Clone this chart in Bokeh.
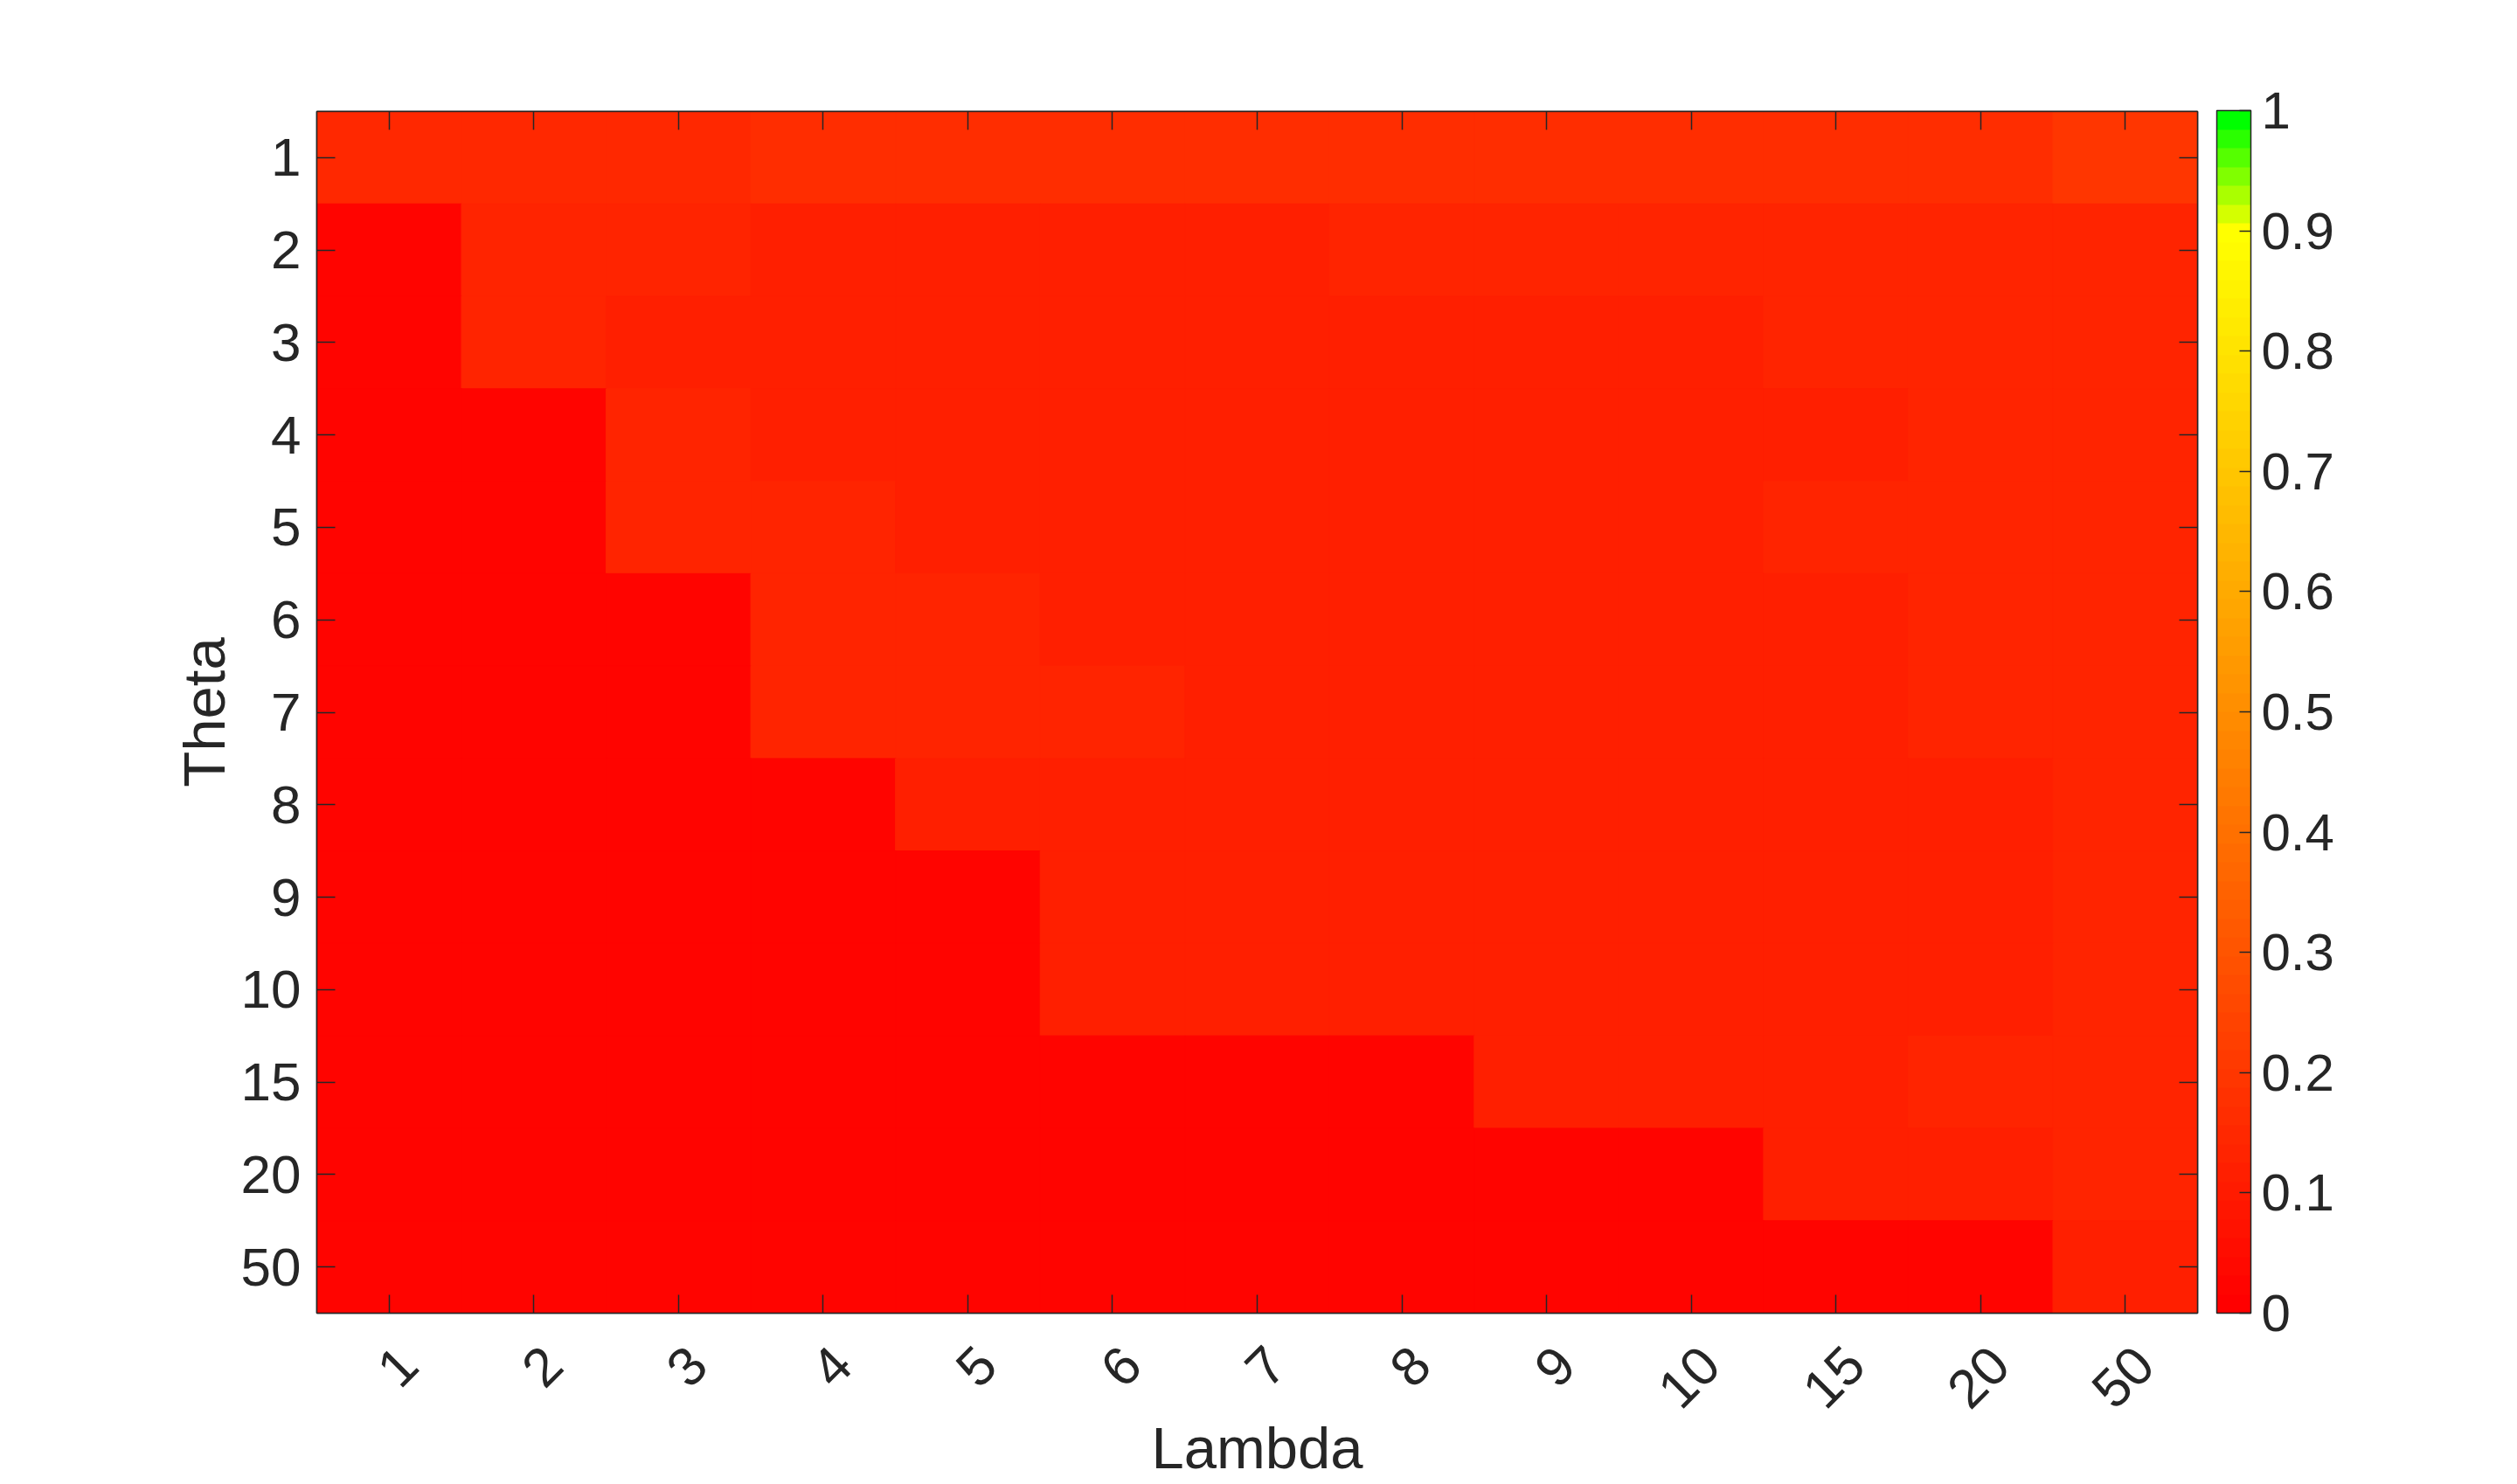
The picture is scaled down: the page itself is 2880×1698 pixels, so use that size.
import math
from bokeh.plotting import figure
from bokeh.models import (LinearColorMapper, ColorBar, FixedTicker, CustomJSTickFormatter,
                          LinearAxis, ColumnDataSource, Range1d)
from bokeh.transform import transform
from bokeh.embed import file_html
from bokeh.resources import INLINE

# ---------------- data ----------------
lambda_labels = ["1", "2", "3", "4", "5", "6", "7", "8", "9", "10", "15", "20", "50"]
theta_labels = ["1", "2", "3", "4", "5", "6", "7", "8", "9", "10", "15", "20", "50"]

# one list per Theta row, values for Lambda = 1 ... 50
theta_1 = [0.148, 0.148, 0.148, 0.164, 0.164, 0.164, 0.164, 0.164, 0.164, 0.164, 0.164, 0.164, 0.195]
theta_2 = [0.023, 0.133, 0.133, 0.117, 0.117, 0.117, 0.117, 0.133, 0.133, 0.133, 0.133, 0.133, 0.133]
theta_3 = [0.023, 0.133, 0.117, 0.117, 0.117, 0.117, 0.117, 0.117, 0.117, 0.117, 0.133, 0.133, 0.133]
theta_4 = [0.023, 0.023, 0.133, 0.117, 0.117, 0.117, 0.117, 0.117, 0.117, 0.117, 0.117, 0.133, 0.133]
theta_5 = [0.023, 0.023, 0.133, 0.133, 0.117, 0.117, 0.117, 0.117, 0.117, 0.117, 0.133, 0.133, 0.133]
theta_6 = [0.023, 0.023, 0.023, 0.133, 0.133, 0.117, 0.117, 0.117, 0.117, 0.117, 0.117, 0.133, 0.133]
theta_7 = [0.023, 0.023, 0.023, 0.133, 0.133, 0.133, 0.117, 0.117, 0.117, 0.117, 0.117, 0.133, 0.133]
theta_8 = [0.023, 0.023, 0.023, 0.023, 0.117, 0.117, 0.117, 0.117, 0.117, 0.117, 0.117, 0.117, 0.133]
theta_9 = [0.023, 0.023, 0.023, 0.023, 0.023, 0.117, 0.117, 0.117, 0.117, 0.117, 0.117, 0.117, 0.133]
theta_10 = [0.023, 0.023, 0.023, 0.023, 0.023, 0.117, 0.117, 0.117, 0.117, 0.117, 0.117, 0.117, 0.133]
theta_15 = [0.023, 0.023, 0.023, 0.023, 0.023, 0.023, 0.023, 0.023, 0.117, 0.117, 0.117, 0.133, 0.133]
theta_20 = [0.023, 0.023, 0.023, 0.023, 0.023, 0.023, 0.023, 0.023, 0.023, 0.023, 0.117, 0.117, 0.133]
theta_50 = [0.023, 0.023, 0.023, 0.023, 0.023, 0.023, 0.023, 0.023, 0.023, 0.023, 0.023, 0.023, 0.117]

rows = [theta_1, theta_2, theta_3, theta_4, theta_5, theta_6, theta_7,
        theta_8, theta_9, theta_10, theta_15, theta_20, theta_50]

colorbar_ticks = [0, 0.1, 0.2, 0.3, 0.4, 0.5, 0.6, 0.7, 0.8, 0.9, 1.0]

# ---------------- colormap (64 levels: red -> yellow -> green) ----------------
palette = []
for i in range(58):
    g = round(255 * i / 57)
    palette.append("#%02x%02x%02x" % (255, g, 0))
for k in range(1, 7):
    r = round(255 * (1 - k / 6))
    palette.append("#%02x%02x%02x" % (r, 255, 0))

mapper = LinearColorMapper(palette=palette, low=0, high=1)

NX = len(lambda_labels)
NY = len(theta_labels)
x_centers = [i + 0.5 for i in range(NX)]
y_centers = [j + 0.5 for j in range(NY)]

xs, ys, vs = [], [], []
for j, row in enumerate(rows):
    for i, v in enumerate(row):
        xs.append(x_centers[i])
        ys.append(y_centers[j])
        vs.append(v)
src = ColumnDataSource(dict(lam=xs, theta=ys, v=vs))

FONT = "Liberation Sans"
TXT = "#262626"
SHIFT = 0.133  # rotated labels sit centred under their ticks

p = figure(width=2880, height=1698,
           x_range=Range1d(0, NX), y_range=Range1d(NY, 0),
           x_axis_location=None, y_axis_location=None,
           output_backend="svg", toolbar_location=None,
           min_border_left=362, min_border_right=366,
           min_border_top=127, min_border_bottom=196)
p.extra_x_ranges = {"lab": Range1d(-SHIFT, NX - SHIFT)}

p.rect(x="lam", y="theta", width=1, height=1, source=src,
       fill_color=transform("v", mapper), line_color=transform("v", mapper),
       line_width=1, dilate=True)

p.grid.visible = False
p.outline_line_color = TXT
p.outline_line_width = 1.5
p.background_fill_color = "white"
p.border_fill_color = "white"


def label_fmt(labels):
    return CustomJSTickFormatter(args=dict(labels=labels),
                                 code="return labels[Math.round(tick - 0.5)];")


# left (labelled) axis
ya = LinearAxis(ticker=FixedTicker(ticks=y_centers), formatter=label_fmt(theta_labels),
                major_tick_in=21, major_tick_out=0, major_tick_line_color=TXT,
                major_tick_line_width=1.5, minor_tick_line_color=None,
                axis_line_color=TXT, axis_line_width=1.5,
                major_label_text_font=FONT, major_label_text_font_size="62px",
                major_label_text_color=TXT, major_label_standoff=18,
                axis_label="Theta", axis_label_text_font=FONT,
                axis_label_text_font_size="67px", axis_label_text_font_style="normal",
                axis_label_text_color=TXT, axis_label_standoff=2)
p.add_layout(ya, "left")


def tick_axis(centers):
    return LinearAxis(ticker=FixedTicker(ticks=[], minor_ticks=centers),
                      minor_tick_in=21, minor_tick_out=0, minor_tick_line_color=TXT,
                      minor_tick_line_width=1.5, major_tick_line_color=None,
                      axis_line_color=TXT, axis_line_width=1.5, major_label_standoff=0)


# tick-only axes on bottom, top and right
p.add_layout(tick_axis(x_centers), "below")
p.add_layout(tick_axis(x_centers), "above")
p.add_layout(tick_axis(y_centers), "right")

# labelled bottom axis (rotated labels)
xlab = LinearAxis(x_range_name="lab",
                  ticker=FixedTicker(ticks=x_centers),
                  formatter=label_fmt(lambda_labels),
                  axis_line_color=None, major_tick_line_color=None, minor_tick_line_color=None,
                  major_label_orientation=math.pi / 4, major_label_standoff=43,
                  major_label_text_font=FONT, major_label_text_font_size="62px",
                  major_label_text_color=TXT,
                  axis_label="Lambda", axis_label_text_font=FONT,
                  axis_label_text_font_size="67px", axis_label_text_font_style="normal",
                  axis_label_text_color=TXT, axis_label_standoff=-14)
p.add_layout(xlab, "below")

cb = ColorBar(color_mapper=mapper,
              ticker=FixedTicker(ticks=colorbar_ticks),
              formatter=CustomJSTickFormatter(code="return String(Number(tick.toFixed(1)));"),
              width=39, height=1376, location=(22, 0),
              margin=0, padding=0,
              major_tick_in=13, major_tick_out=0,
              major_tick_line_color=TXT, major_tick_line_width=1.5,
              bar_line_color=TXT, bar_line_width=1.5,
              major_label_text_font=FONT, major_label_text_font_size="60px",
              major_label_text_color=TXT, label_standoff=12,
              border_line_color=None, background_fill_color=None)
p.add_layout(cb, "right")

open("out.html", "w").write(file_html(p, INLINE))
